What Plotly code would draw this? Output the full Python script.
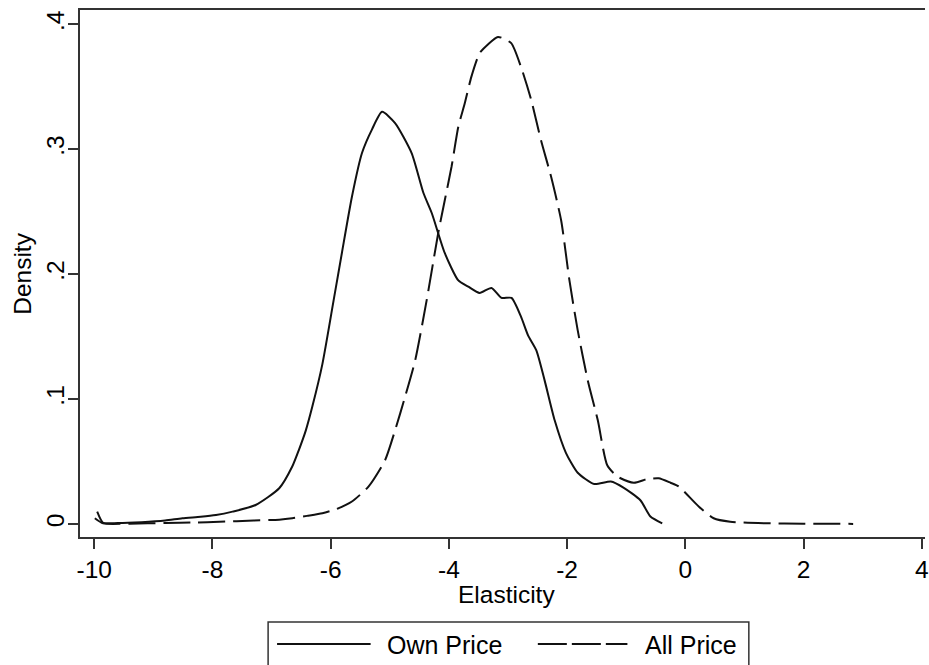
import plotly.graph_objects as go

# ---- data ----
own_x = [-9.95, -9.85, -9.6, -9.2, -8.8, -8.51, -8.2, -7.94, -7.66, -7.27, -6.87, -6.65,
         -6.54, -6.42, -6.31, -6.14, -5.95, -5.81, -5.64, -5.47, -5.30, -5.13, -4.91, -4.63,
         -4.43, -4.29, -4.07, -3.84, -3.67, -3.48, -3.28, -3.11, -2.94, -2.78, -2.66,
         -2.52, -2.38, -2.21, -2.02, -1.82, -1.54, -1.26, -1.04, -0.76, -0.59, -0.39]
own_y = [0.0099, 0.0010, 0.0008, 0.0015, 0.0028, 0.0046, 0.0058, 0.0072, 0.0099, 0.0152,
         0.0286, 0.046, 0.059, 0.075, 0.094, 0.128, 0.179, 0.217, 0.262, 0.297, 0.316, 0.330,
         0.321, 0.297, 0.265, 0.249, 0.217, 0.195, 0.190, 0.185, 0.189, 0.181, 0.181,
         0.166, 0.151, 0.139, 0.115, 0.083, 0.057, 0.041, 0.032, 0.034, 0.029, 0.019,
         0.006, 0.0005]

all_x = [-9.99, -9.85, -9.4, -8.8, -8.3, -7.88, -7.3, -6.87, -6.65, -6.4, -6.14, -5.9,
         -5.64, -5.36, -5.08, -4.91, -4.74, -4.57, -4.376, -4.18, -4.07, -3.955, -3.84,
         -3.73, -3.62, -3.48, -3.34, -3.17, -2.945, -2.78, -2.61, -2.44, -2.27, -2.10,
         -1.96, -1.82, -1.65, -1.48, -1.32, -1.15, -0.87, -0.64, -0.45, -0.25, -0.11,
         0.227, 0.48, 0.76, 1.35, 2.0, 2.84]
all_y = [0.0046, 0.0005, 0.0003, 0.0008, 0.0012, 0.0018, 0.0028, 0.0035, 0.0046, 0.0065,
         0.0086, 0.012, 0.018, 0.030, 0.051, 0.075, 0.102, 0.131, 0.179, 0.233, 0.259,
         0.286, 0.318, 0.337, 0.358, 0.377, 0.384, 0.390, 0.385, 0.366, 0.340, 0.307,
         0.278, 0.243, 0.195, 0.155, 0.115, 0.083, 0.047, 0.038, 0.033, 0.036, 0.0366,
         0.033, 0.030, 0.014, 0.0046, 0.0018, 0.0006, 0.0003, 0.0001]

x_ticks = [-10, -8, -6, -4, -2, 0, 2, 4]
x_tick_text = ["-10", "-8", "-6", "-4", "-2", "0", "2", "4"]
y_ticks = [0, 0.1, 0.2, 0.3, 0.4]
y_tick_text = ["0", ".1", ".2", ".3", ".4"]

series_names = ["Own Price", "All Price"]
x_title = "Elasticity"
y_title = "Density"

FONT = "Liberation Sans, Arial, sans-serif"
INK = "#111111"
AX = "#333333"
FS = 24.5
FS_LEG = 25

W, H = 929, 665
L, R, T, B = 80, 0, 10, 128
pw = W - L - R
ph = H - T - B


def px2paper_x(px):
    return (px - L) / pw


def py2paper_y(py):
    return (H - B - py) / ph


fig = go.Figure()
fig.add_trace(go.Scatter(x=own_x, y=own_y, mode="lines", name=series_names[0],
                         line=dict(color=INK, width=2, shape="spline", smoothing=0.6),
                         showlegend=False))
fig.add_trace(go.Scatter(x=all_x, y=all_y, mode="lines", name=series_names[1],
                         line=dict(color=INK, width=2, dash="27px,8px", shape="spline",
                                   smoothing=0.6),
                         showlegend=False))

# legend drawn as a Stata-style box below the plot
shapes = [
    dict(type="rect", xref="paper", yref="paper",
         x0=px2paper_x(269), x1=px2paper_x(752), y0=py2paper_y(622), y1=py2paper_y(700),
         line=dict(color=AX, width=1.5), fillcolor="rgba(0,0,0,0)", layer="above"),
    dict(type="line", xref="paper", yref="paper",
         x0=px2paper_x(278), x1=px2paper_x(372), y0=py2paper_y(644), y1=py2paper_y(644),
         line=dict(color=INK, width=2)),
    dict(type="line", xref="paper", yref="paper",
         x0=px2paper_x(540), x1=px2paper_x(630), y0=py2paper_y(644), y1=py2paper_y(644),
         line=dict(color=INK, width=2, dash="29px,5px")),
]
annotations = [
    dict(text=series_names[0], xref="paper", yref="paper", x=px2paper_x(386),
         y=py2paper_y(645), xanchor="left", yanchor="middle", showarrow=False,
         font=dict(family=FONT, size=FS_LEG, color="black")),
    dict(text=series_names[1], xref="paper", yref="paper", x=px2paper_x(646),
         y=py2paper_y(645), xanchor="left", yanchor="middle", showarrow=False,
         font=dict(family=FONT, size=FS_LEG, color="black")),
    dict(text=x_title, xref="paper", yref="paper", x=px2paper_x(509),
         y=py2paper_y(594), xanchor="center", yanchor="middle", showarrow=False,
         font=dict(family=FONT, size=FS, color="black")),
    dict(text=y_title, xref="paper", yref="paper", x=px2paper_x(22),
         y=0.5, xanchor="center", yanchor="middle", showarrow=False, textangle=-90,
         font=dict(family=FONT, size=FS, color="black")),
]

fig.update_layout(
    width=W, height=H,
    margin=dict(l=L, r=R, t=T, b=B, pad=0),
    paper_bgcolor="white", plot_bgcolor="white",
    font=dict(family=FONT, size=FS, color="black"),
    showlegend=False,
    shapes=shapes,
    annotations=annotations,
    xaxis=dict(range=[-10 - (94.3 - L) / 59.39, 4 + (W - R - 925.7) / 59.39],
               tickvals=x_ticks, ticktext=x_tick_text,
               ticks="outside", ticklen=10, tickwidth=1.5, tickcolor=AX,
               showline=True, linecolor=AX, linewidth=2, mirror=True,
               showgrid=False, zeroline=False, ticklabeloverflow="allow",
               tickfont=dict(family=FONT, size=FS, color="black")),
    yaxis=dict(range=[-(537 - 524) / 1249, (524 - T) / 1249],
               tickvals=y_ticks, ticktext=y_tick_text, tickangle=-90,
               ticks="outside", ticklen=10, tickwidth=1.5, tickcolor=AX,
               showline=True, linecolor=AX, linewidth=2, mirror=False,
               showgrid=False, zeroline=False, ticklabelstandoff=-6,
               tickfont=dict(family=FONT, size=FS, color="black")),
)

fig.write_html("out.html")
